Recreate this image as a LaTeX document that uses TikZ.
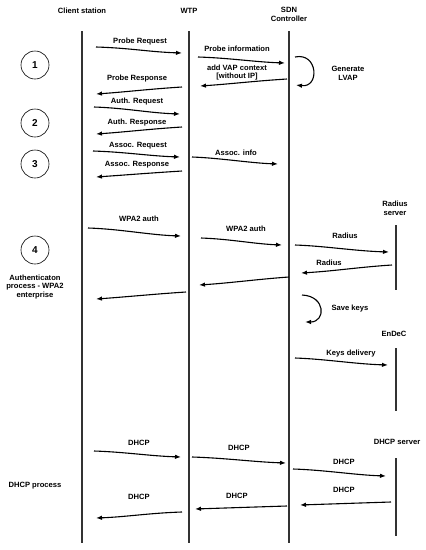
\documentclass[tikz,border=0pt]{standalone}
\usepackage{fontspec}
\setmainfont{Liberation Sans}
\usetikzlibrary{arrows.meta}
\begin{document}
\begin{tikzpicture}[x=1pt,y=-1pt,
  lbl/.style={font=\bfseries\fontsize{7.6}{8.8}\selectfont, inner sep=0pt, align=center},
  life/.style={line width=1.6pt, draw=black!80},
  msg/.style={line width=1.1pt, -{Latex[length=6pt,width=4.5pt]}},
  num/.style={circle, draw, line width=0.6pt, minimum size=28pt, inner sep=0pt, font=\bfseries\fontsize{10}{11}\selectfont}]
\useasboundingbox[fill=white] (0,0) rectangle (426,550);
% headers
\node[lbl] (hc) at (82,11) {Client station};
\node[lbl] (hw) at (189,11) {WTP};
\node[lbl] (hs) at (289,14) {SDN\\Controller};
\node[lbl] (hr) at (395,208) {Radius\\server};
\node[lbl] (he) at (394,334) {EnDeC};
\node[lbl] (hd) at (397,442) {DHCP server};
% lifelines
\coordinate (c1) at (82,31); \coordinate (c2) at (82,543);
\coordinate (w1) at (189,31); \coordinate (w2) at (189,543);
\coordinate (s1) at (289,31); \coordinate (s2) at (289,543);
\coordinate (r1) at (396,225); \coordinate (r2) at (396,290);
\coordinate (e1) at (396,348); \coordinate (e2) at (396,411);
\coordinate (d1) at (396,458); \coordinate (d2) at (396,536);
\draw[life] (c1) -- (c2);
\draw[life] (w1) -- (w2);
\draw[life] (s1) -- (s2);
\draw[life] (r1) -- (r2);
\draw[life] (e1) -- (e2);
\draw[life] (d1) -- (d2);
% numbers
\node[num] (n1) at (35,65) {1};
\node[num] (n2) at (35,123) {2};
\node[num] (n3) at (35,164) {3};
\node[num] (n4) at (35,250) {4};
\node[lbl] (la) at (35,287) {Authenticaton\\process - WPA2\\enterprise};
\node[lbl] (ld) at (35,486) {DHCP process};
% messages
\coordinate (m1a) at (96,47); \coordinate (m1b) at (182,53);
\draw[msg] (m1a) .. controls (130,48) and (150,52) .. (m1b);
\node[lbl] (t1) at (140,42) {Probe Request};
\coordinate (m2a) at (198,57); \coordinate (m2b) at (285,63);
\draw[msg] (m2a) .. controls (230,58) and (255,62) .. (m2b);
\node[lbl] (t2) at (237,49) {Probe information};
\coordinate (m3a) at (287,79); \coordinate (m3b) at (200,86);
\draw[msg] (m3a) .. controls (255,81) and (230,84) .. (m3b);
\node[lbl] (t3) at (237,72.5) {add VAP context\\ {[without IP]}};
\coordinate (g1) at (295,57); \coordinate (g2) at (296,85);
\draw[msg] (g1) .. controls (318,52) and (320,88) .. (g2);
\node[lbl] (t4) at (348,73.5) {Generate\\LVAP};
\coordinate (m5a) at (182,87); \coordinate (m5b) at (96,94);
\draw[msg] (m5a) .. controls (150,89) and (125,92) .. (m5b);
\node[lbl] (t5) at (137,79) {Probe Response};
\coordinate (m6a) at (94,107); \coordinate (m6b) at (180,114);
\draw[msg] (m6a) .. controls (125,108) and (150,113) .. (m6b);
\node[lbl] (t6) at (137,102) {Auth. Request};
\coordinate (m7a) at (182,127); \coordinate (m7b) at (96,134);
\draw[msg] (m7a) .. controls (150,129) and (125,132) .. (m7b);
\node[lbl] (t7) at (137,123) {Auth. Response};
\coordinate (m8a) at (93,151); \coordinate (m8b) at (180,157);
\draw[msg] (m8a) .. controls (125,152) and (150,156) .. (m8b);
\node[lbl] (t8) at (138,146) {Assoc. Request};
\coordinate (m9a) at (182,171); \coordinate (m9b) at (96,177);
\draw[msg] (m9a) .. controls (150,173) and (125,175) .. (m9b);
\node[lbl] (t9) at (137,165) {Assoc. Response};
\coordinate (m10a) at (192,157); \coordinate (m10b) at (278,164);
\draw[msg] (m10a) .. controls (220,158) and (250,163) .. (m10b);
\node[lbl] (t10) at (236,153) {Assoc. info};
\coordinate (m11a) at (88,228); \coordinate (m11b) at (181,236);
\draw[msg] (m11a) .. controls (120,229) and (150,235) .. (m11b);
\node[lbl] (t11) at (139,219) {WPA2 auth};
\coordinate (m12a) at (201,238); \coordinate (m12b) at (282,245);
\draw[msg] (m12a) .. controls (230,239) and (255,244) .. (m12b);
\node[lbl] (t12) at (246,229) {WPA2 auth};
\coordinate (m13a) at (295,245); \coordinate (m13b) at (389,252);
\draw[msg] (m13a) .. controls (325,246) and (355,251) .. (m13b);
\node[lbl] (t13) at (345,236) {Radius};
\coordinate (m14a) at (392,265); \coordinate (m14b) at (301,273);
\draw[msg] (m14a) .. controls (360,267) and (335,271) .. (m14b);
\node[lbl] (t14) at (329,263) {Radius};
\coordinate (m15a) at (289,277); \coordinate (m15b) at (199,285);
\draw[msg] (m15a) .. controls (260,279) and (230,283) .. (m15b);
\coordinate (m16a) at (186,292); \coordinate (m16b) at (96,299);
\draw[msg] (m16a) .. controls (155,294) and (125,297) .. (m16b);
\coordinate (k1) at (302,295); \coordinate (k2) at (305,322);
\draw[msg] (k1) .. controls (326,296) and (326,322) .. (k2);
\node[lbl] (t17) at (350,309) {Save keys};
\coordinate (m18a) at (295,358); \coordinate (m18b) at (388,365);
\draw[msg] (m18a) .. controls (325,359) and (355,364) .. (m18b);
\node[lbl] (t18) at (351,354) {Keys delivery};
\coordinate (m19a) at (94,451); \coordinate (m19b) at (181,457);
\draw[msg] (m19a) .. controls (125,452) and (150,456) .. (m19b);
\node[lbl] (t19) at (139,443) {DHCP};
\coordinate (m20a) at (192,457); \coordinate (m20b) at (286,463);
\draw[msg] (m20a) .. controls (225,458) and (255,462) .. (m20b);
\node[lbl] (t20) at (239,448) {DHCP};
\coordinate (m21a) at (293,469); \coordinate (m21b) at (386,476);
\draw[msg] (m21a) .. controls (325,470) and (355,475) .. (m21b);
\node[lbl] (t21) at (344,462) {DHCP};
\coordinate (m22a) at (391,502); \coordinate (m22b) at (300,505);
\draw[msg] (m22a) .. controls (360,503) and (330,504) .. (m22b);
\node[lbl] (t22) at (344,490) {DHCP};
\coordinate (m23a) at (287,506); \coordinate (m23b) at (195,509);
\draw[msg] (m23a) .. controls (255,507) and (225,508) .. (m23b);
\node[lbl] (t23) at (237,496) {DHCP};
\coordinate (m24a) at (182,512); \coordinate (m24b) at (96,518);
\draw[msg] (m24a) .. controls (150,513) and (125,517) .. (m24b);
\node[lbl] (t24) at (139,497) {DHCP};
\end{tikzpicture}
\end{document}
